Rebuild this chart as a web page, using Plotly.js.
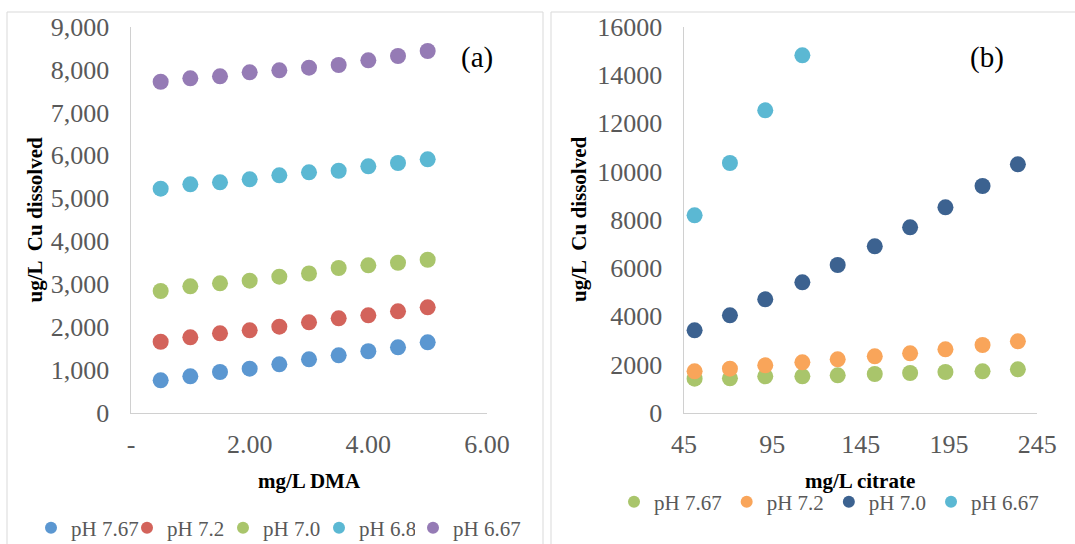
<!DOCTYPE html>
<html>
<head>
<meta charset="utf-8">
<script src="https://cdn.plot.ly/plotly-3.0.1.min.js"></script>
<style>
  html, body { margin: 0; padding: 0; background: #fff; }
  #chart { width: 1075px; height: 544px; }
</style>
</head>
<body>
<div id="chart"></div>
<script>
// (a) Cu dissolved vs DMA dose
var dmaDose = [0.5, 1.0, 1.5, 2.0, 2.5, 3.0, 3.5, 4.0, 4.5, 5.0];
var dmaPH767 = [755, 849, 949, 1026, 1128, 1245, 1338, 1432, 1525, 1641];
var dmaPH72  = [1655, 1758, 1851, 1921, 2005, 2108, 2201, 2271, 2364, 2457];
var dmaPH70  = [2838, 2947, 3017, 3078, 3171, 3245, 3374, 3437, 3497, 3567];
var dmaPH68  = [5223, 5325, 5372, 5442, 5535, 5605, 5642, 5745, 5822, 5908];
var dmaPH667 = [7717, 7797, 7843, 7937, 7983, 8044, 8107, 8216, 8317, 8433];

// (b) Cu dissolved vs citrate dose
var citDose = [51, 71, 91, 112, 132, 153, 173, 193, 214, 234];
var citPH767 = [1409, 1426, 1509, 1509, 1550, 1604, 1646, 1687, 1716, 1799];
var citPH72  = [1716, 1824, 1965, 2089, 2213, 2338, 2462, 2628, 2806, 2960];
var citPH70  = [3416, 4037, 4701, 5405, 6122, 6897, 7685, 8514, 9397, 10296];
var citPH667 = [8182, 10350, 12535, 14814];

var dmaTickVals = [0, 2, 4, 6];
var dmaTickText = ['-', '2.00', '4.00', '6.00'];
var citTickVals = [45, 95, 145, 195, 245];

var W = 1075, H = 544;
function px(x) { return x / W; }
function py(y) { return 1 - y / H; }

var serif = 'Liberation Serif, Times New Roman, serif';
var grey = '#595959';

function series(x, y, name, color, xa, ya, leg) {
  return {
    type: 'scatter', mode: 'markers', x: x, y: y, name: name,
    xaxis: xa, yaxis: ya, legend: leg,
    marker: { size: 16, color: color },
    hoverinfo: 'x+y+name'
  };
}

var data = [
  series(dmaDose, dmaPH767, 'pH 7.67', '#5B97D1', 'x', 'y', 'legend'),
  series(dmaDose, dmaPH72,  'pH 7.2',  '#D3635B', 'x', 'y', 'legend'),
  series(dmaDose, dmaPH70,  'pH 7.0',  '#A9C56B', 'x', 'y', 'legend'),
  series(dmaDose, dmaPH68,  'pH 6.8',  '#5BB8D3', 'x', 'y', 'legend'),
  series(dmaDose, dmaPH667, 'pH 6.67', '#957BB5', 'x', 'y', 'legend3'),
  series(citDose, citPH767, 'pH 7.67', '#A9C56B', 'x2', 'y2', 'legend2'),
  series(citDose, citPH72,  'pH 7.2',  '#F9A55A', 'x2', 'y2', 'legend2'),
  series(citDose, citPH70,  'pH 7.0',  '#3C6290', 'x2', 'y2', 'legend2'),
  series(citDose.slice(0, citPH667.length), citPH667, 'pH 6.67', '#5BB8D3', 'x2', 'y2', 'legend2')
];

var plotTop = 26.7, plotBottom = 412.7;
var yDomain = [py(plotBottom), py(plotTop)];

var axisCommon = {
  showgrid: false, zeroline: false, showline: true,
  linecolor: '#d0d0d0', linewidth: 1.5, ticks: '',
  tickfont: { family: serif, size: 26, color: grey },
  fixedrange: true
};

function legendAt(xLeft, yMid, extra) {
  return Object.assign({
    orientation: 'h', x: px(xLeft), xanchor: 'left',
    y: py(yMid), yanchor: 'middle',
    font: { family: serif, size: 21, color: grey },
    itemsizing: 'constant', bgcolor: 'rgba(0,0,0,0)',
    traceorder: 'normal'
  }, extra || {});
}

function label(text, x, y, opts) {
  return Object.assign({
    text: text, xref: 'paper', yref: 'paper', x: px(x), y: py(y),
    xanchor: 'center', yanchor: 'middle', showarrow: false
  }, opts || {});
}

var titleFont = { family: serif, size: 21, color: '#000' };

var layout = {
  width: W, height: H,
  margin: { l: 0, r: 0, t: 0, b: 0, pad: 0, autoexpand: false },
  paper_bgcolor: '#fff', plot_bgcolor: 'rgba(0,0,0,0)',
  showlegend: true,
  xaxis: Object.assign({}, axisCommon, {
    domain: [px(131), px(487)], range: [0, 6], anchor: 'y',
    tickvals: dmaTickVals, ticktext: dmaTickText, ticklabelstandoff: 8
  }),
  yaxis: Object.assign({}, axisCommon, {
    domain: yDomain, range: [0, 9000], anchor: 'x',
    dtick: 1000, tickformat: ',d', ticklabelstandoff: 15
  }),
  xaxis2: Object.assign({}, axisCommon, {
    domain: [px(684), px(1037.3)], range: [45, 245], anchor: 'y2',
    tickvals: citTickVals, ticklabelstandoff: 8
  }),
  yaxis2: Object.assign({}, axisCommon, {
    domain: yDomain, range: [0, 16000], anchor: 'x2',
    dtick: 2000, tickformat: 'd', ticklabelstandoff: 15
  }),
  legend: legendAt(31, 528, { entrywidth: 51, entrywidthmode: 'pixels' }),
  legend3: legendAt(413, 528),
  legend2: legendAt(614, 502),
  annotations: [
    label('<b>mg/L DMA</b>', 309, 481, { font: titleFont }),
    label('<b>mg/L citrate</b>', 860, 481, { font: titleFont }),
    label('<b>ug/L  Cu dissolved</b>', 34.5, 220, { font: titleFont, textangle: -90 }),
    label('<b>ug/L  Cu dissolved</b>', 579, 220, { font: titleFont, textangle: -90 }),
    label('(a)', 477, 58, { font: { family: serif, size: 29, color: '#000' } }),
    label('(b)', 987, 58, { font: { family: serif, size: 29, color: '#000' } })
  ],
  shapes: [
    { type: 'rect', xref: 'paper', yref: 'paper', x0: px(7), x1: px(543), y0: -0.05, y1: py(12),
      line: { color: '#d9d9d9', width: 1 }, layer: 'below' },
    { type: 'rect', xref: 'paper', yref: 'paper', x0: px(551), x1: 1.05, y0: -0.05, y1: py(12),
      line: { color: '#d9d9d9', width: 1 }, layer: 'below' }
  ]
};

Plotly.newPlot('chart', data, layout, { displayModeBar: false, staticPlot: true });
</script>
</body>
</html>
